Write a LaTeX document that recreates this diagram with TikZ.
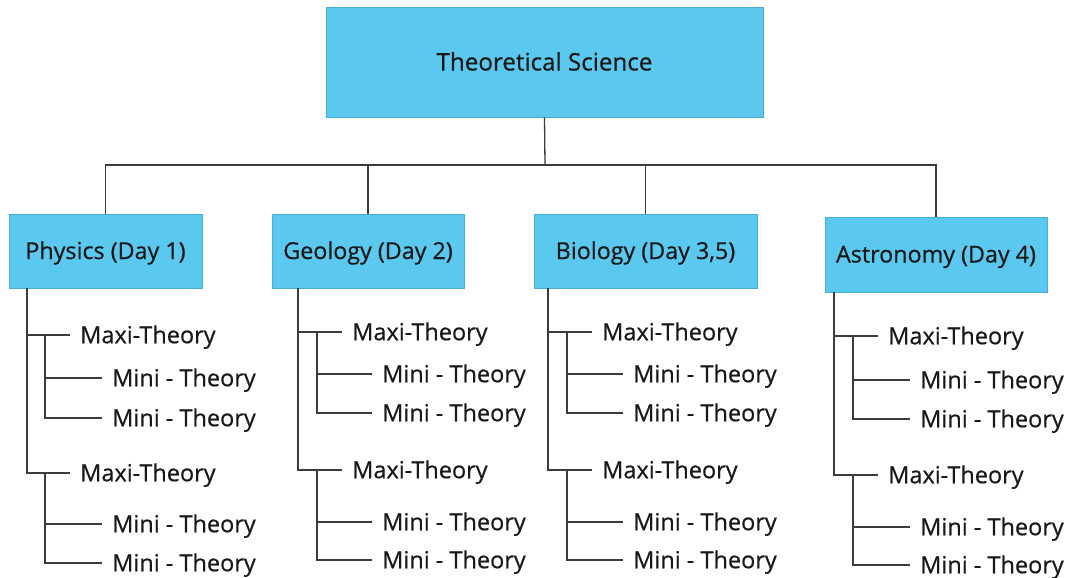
\documentclass[tikz,border=0pt]{standalone}
\usepackage{fontspec}
\setmainfont{Open Sans}[BoldFont={Open Sans},BoldFeatures={FakeBold=0.6}]
\definecolor{boxblue}{RGB}{91,201,239}
\definecolor{boxedge}{RGB}{70,175,215}
\definecolor{linegray}{RGB}{60,60,60}
\definecolor{txt}{RGB}{25,25,25}
\begin{document}
\begin{tikzpicture}[x=1pt,y=-1pt,
  box/.style={draw=boxedge,line width=0.8pt,fill=boxblue,inner sep=0pt,text=txt,
    text height=16pt,text depth=0pt,font=\fontsize{23.3}{27}\selectfont\bfseries},
  leaf/.style={anchor=west,inner xsep=10pt,inner ysep=0pt,text height=16.5pt,text depth=0pt,
    text=txt,font=\fontsize{23.5}{27}\selectfont\bfseries},
  conn/.style={draw=linegray,line width=1.3pt}]
\useasboundingbox (0,0) rectangle (1068,578);
% boxes
\node[box,minimum width=437pt,minimum height=110pt,text height=17pt,
  font=\fontsize{24.2}{28}\selectfont\bfseries] (ts) at (544.5,62) {Theoretical Science};
\node[box,minimum width=193pt,minimum height=74pt] (phy) at (105.5,251) {Physics (Day 1)};
\node[box,minimum width=192pt,minimum height=74pt] (geo) at (368,251) {Geology (Day 2)};
\node[box,minimum width=223pt,minimum height=74pt] (bio) at (645.5,251) {Biology (Day 3,5)};
\node[box,minimum width=222pt,minimum height=75pt] (ast) at (936,254.5) {Astronomy (Day 4)};
% top connectors
\coordinate (bus) at (545,165);
\draw[conn] (ts.south) -- (bus);
\draw[conn] (phy.north) |- (bus) -| (ast.north);
\draw[conn] (geo.north) -- (geo.north |- bus);
\draw[conn] (bio.north) -- (bio.north |- bus);
% sub-trees
\foreach \p/\tx/\sx/\mx/\nx/\ya/\yb/\yc/\yd/\ye/\yf in {
  phy/27/45/70/102/335/378/418/473/524/563,
  geo/298/317/342/372/332/374/413/470/522/560,
  bio/548/567/592/623/332/374/413/470/522/560,
  ast/834/853/878/910/336/380/419/475/527/565}{
  \coordinate (\p-t) at (\tx,0);
  \coordinate (\p-s) at (\sx,0);
  \node[leaf] (\p-ma1) at (\mx,\ya) {Maxi-Theory};
  \node[leaf] (\p-mi1) at (\nx,\yb) {Mini - Theory};
  \node[leaf] (\p-mi2) at (\nx,\yc) {Mini - Theory};
  \node[leaf] (\p-ma2) at (\mx,\yd) {Maxi-Theory};
  \node[leaf] (\p-mi3) at (\nx,\ye) {Mini - Theory};
  \node[leaf] (\p-mi4) at (\nx,\yf) {Mini - Theory};
  \draw[conn] (\p-t |- \p.south) |- (\p-ma2.west);
  \draw[conn] (\p-t |- \p-ma1.west) -- (\p-ma1.west);
  \draw[conn] (\p-s |- \p-ma1.west) |- (\p-mi2.west);
  \draw[conn] (\p-s |- \p-mi1.west) -- (\p-mi1.west);
  \draw[conn] (\p-s |- \p-ma2.west) |- (\p-mi4.west);
  \draw[conn] (\p-s |- \p-mi3.west) -- (\p-mi3.west);
}
\end{tikzpicture}
\end{document}
